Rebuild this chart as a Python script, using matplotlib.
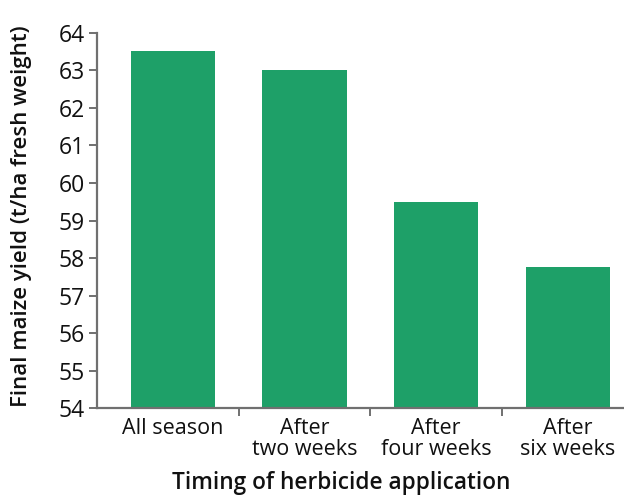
import matplotlib
matplotlib.use("Agg")
import matplotlib.pyplot as plt

# data
categories = ["All season", "After\ntwo weeks", "After\nfour weeks", "After\nsix weeks"]
yields = [63.5, 63.0, 59.5, 57.75]
yticks = list(range(54, 65))

plt.rcParams['font.family'] = ['Open Sans', 'DejaVu Sans']

fig = plt.figure(figsize=(6.24, 4.96), dpi=100)
ax = fig.add_axes([97.4 / 624, 1 - 408.3 / 496, (623 - 97.4) / 624, (408.3 - 32.7) / 496])

x = list(range(len(categories)))
ax.bar(x, yields, width=0.64, color='#1ea068', bottom=0, zorder=2)

ax.set_ylim(54, 64)
ax.set_xlim(-0.574, 3.42)

ax.spines['top'].set_visible(False)
ax.spines['right'].set_visible(False)
for s in ['left', 'bottom']:
    ax.spines[s].set_color('#707070')
    ax.spines[s].set_linewidth(1.6)

ax.set_yticks(yticks)
ax.set_yticklabels([str(v) for v in yticks], fontsize=16.5, color='#111111', fontweight=500)
ax.tick_params(axis='y', direction='out', length=6, width=1.4, color='#707070', pad=3)

# category labels centred under bars, tick marks between categories
ax.set_xticks([0.5, 1.5, 2.5])
ax.set_xticklabels([])
ax.tick_params(axis='x', direction='out', length=6, width=1.4, color='#707070')
for xi, lab in zip(x, categories):
    ax.text(xi, -0.025, lab, transform=ax.get_xaxis_transform(), ha='center', va='top',
            fontsize=15.5, color='#111111', fontweight=500, linespacing=1.0)

# axis titles
fig.text(22 / 624, 1 - 216 / 496, "Final maize yield (t/ha fresh weight)", rotation=90,
         ha='center', va='center', fontsize=16, fontweight='semibold', color='#111111')
fig.text(341 / 624, 1 - 483 / 496, "Timing of herbicide application",
         ha='center', va='center', fontsize=16.3, fontweight='semibold', color='#111111')

fig.savefig("out.png", dpi=100)
